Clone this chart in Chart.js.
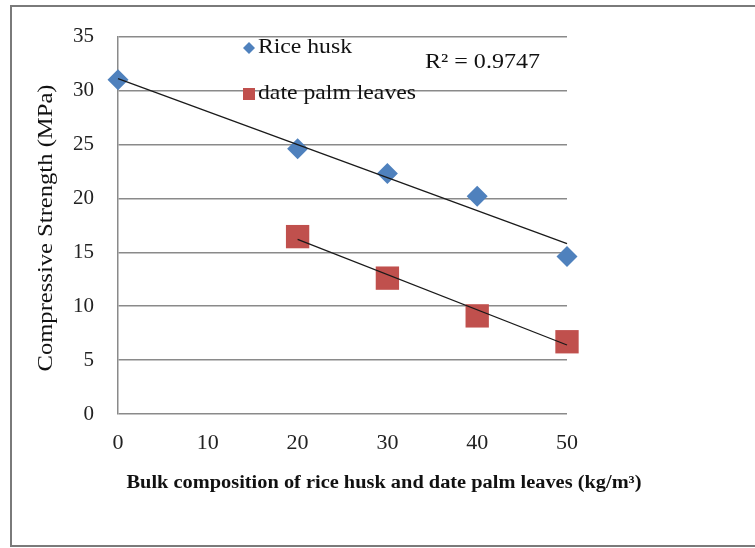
<!DOCTYPE html>
<html>
<head>
<meta charset="utf-8">
<script src="https://cdn.jsdelivr.net/npm/chart.js@4/dist/chart.umd.min.js"></script>
<style>
  html, body { margin: 0; padding: 0; background: #ffffff; }
  #wrap { width: 755px; height: 548px; position: relative; }
</style>
</head>
<body>
<div id="wrap"><canvas id="c" width="755" height="548"></canvas></div>
<script>
// ---- data ----
const riceX = [0, 20, 30, 40, 50];
const riceY = [31.0, 24.6, 22.3, 20.2, 14.6];
const palmX = [20, 30, 40, 50];
const palmY = [16.45, 12.6, 9.1, 6.7];
// trendline end points
const riceTrendX = [0, 50];
const riceTrendY = [31.1, 15.8];
const palmTrendX = [20, 50];
const palmTrendY = [16.2, 6.4];
const xTicks = [0, 10, 20, 30, 40, 50];
const yTicks = [0, 5, 10, 15, 20, 25, 30, 35];
const seriesNames = ['Rice husk', 'date palm leaves'];
const r2Label = 'R\u00B2 = 0.9747';
const xTitle = 'Bulk composition of rice husk and date palm leaves (kg/m\u00B3)';
const yTitle = 'Compressive Strength (MPa)';

const BLUE = '#4F81BD';
const RED = '#C0504D';
const SERIF = '"Liberation Serif", "Times New Roman", serif';

const pts = (xs, ys) => xs.map((x, i) => ({ x: x, y: ys[i] }));

// draw text stretched horizontally so that it spans a given width
function fitText(ctx, text, x, y, width, align) {
  const w = ctx.measureText(text).width;
  const sx = width / w;
  ctx.save();
  ctx.translate(x, y);
  ctx.scale(sx, 1);
  ctx.textAlign = align;
  ctx.fillText(text, 0, 0);
  ctx.restore();
}

const decor = {
  id: 'decor',
  beforeDraw(chart) {
    const ctx = chart.ctx;
    ctx.save();
    ctx.fillStyle = '#fff';
    ctx.fillRect(0, 0, chart.width, chart.height);
    ctx.restore();
  },
  afterDraw(chart) {
    const ctx = chart.ctx;
    ctx.save();
    // outer frame
    ctx.strokeStyle = '#7a7a7a';
    ctx.lineWidth = 2;
    ctx.beginPath();
    ctx.moveTo(760, 6); ctx.lineTo(11, 6); ctx.lineTo(11, 546); ctx.lineTo(760, 546);
    ctx.stroke();

    // legend markers
    ctx.fillStyle = BLUE;
    ctx.beginPath();
    ctx.moveTo(243, 48); ctx.lineTo(249, 42); ctx.lineTo(255, 48); ctx.lineTo(249, 54); ctx.closePath();
    ctx.fill();
    ctx.fillStyle = RED;
    ctx.fillRect(243, 88, 12, 12);

    // legend text
    ctx.fillStyle = '#111';
    ctx.font = '21px ' + SERIF;
    ctx.textBaseline = 'middle';
    fitText(ctx, seriesNames[0], 258, 47, 94, 'left');
    fitText(ctx, seriesNames[1], 258, 93, 158, 'left');

    // R^2 label
    ctx.font = '22px ' + SERIF;
    fitText(ctx, r2Label, 425, 62, 115, 'left');

    // axis titles
    ctx.font = 'bold 18px ' + SERIF;
    fitText(ctx, xTitle, 384, 483, 515, 'center');

    ctx.font = '20px ' + SERIF;
    ctx.translate(47, 228);
    ctx.rotate(-Math.PI / 2);
    fitText(ctx, yTitle, 0, 0, 287, 'center');
    ctx.restore();
  }
};

new Chart(document.getElementById('c'), {
  type: 'scatter',
  data: {
    datasets: [
      {
        label: seriesNames[0],
        data: pts(riceX, riceY),
        pointStyle: 'rectRot',
        pointRadius: 10.5,
        pointHoverRadius: 10.5,
        backgroundColor: BLUE,
        borderColor: BLUE,
        borderWidth: 0,
        clip: false,
        order: 2
      },
      {
        label: seriesNames[1],
        data: pts(palmX, palmY),
        pointStyle: 'rect',
        pointRadius: 16.5,
        pointHoverRadius: 16.5,
        backgroundColor: RED,
        borderColor: RED,
        borderWidth: 0,
        clip: false,
        order: 2
      },
      {
        label: 'trend rice',
        data: pts(riceTrendX, riceTrendY),
        showLine: true,
        pointRadius: 0,
        borderColor: '#1a1a1a',
        borderWidth: 1.3,
        clip: false,
        order: 1
      },
      {
        label: 'trend palm',
        data: pts(palmTrendX, palmTrendY),
        showLine: true,
        pointRadius: 0,
        borderColor: '#1a1a1a',
        borderWidth: 1.3,
        clip: false,
        order: 1
      }
    ]
  },
  options: {
    responsive: false,
    animation: false,
    layout: { padding: { top: 33, right: 188, left: 0, bottom: 0 } },
    plugins: { legend: { display: false }, tooltip: { enabled: false } },
    scales: {
      x: {
        type: 'linear',
        min: 0, max: 50,
        afterBuildTicks: (s) => { s.ticks = xTicks.map(v => ({ value: v })); },
        afterFit: (s) => { s.height = 134; },
        grid: { display: false, drawTicks: false },
        border: { display: false },
        ticks: { color: '#222', font: { family: SERIF, size: 22 }, padding: 16, maxRotation: 0 }
      },
      y: {
        type: 'linear',
        min: 0, max: 35,
        afterBuildTicks: (s) => { s.ticks = yTicks.map(v => ({ value: v })); },
        afterFit: (s) => { s.width = 118; },
        grid: { color: '#8a8a8a', lineWidth: 1.5, drawTicks: false },
        border: { display: true, color: '#8a8a8a', width: 1.5 },
        ticks: { color: '#222', font: { family: SERIF, size: 21 }, padding: 24 }
      }
    }
  },
  plugins: [decor]
});
</script>
</body>
</html>
